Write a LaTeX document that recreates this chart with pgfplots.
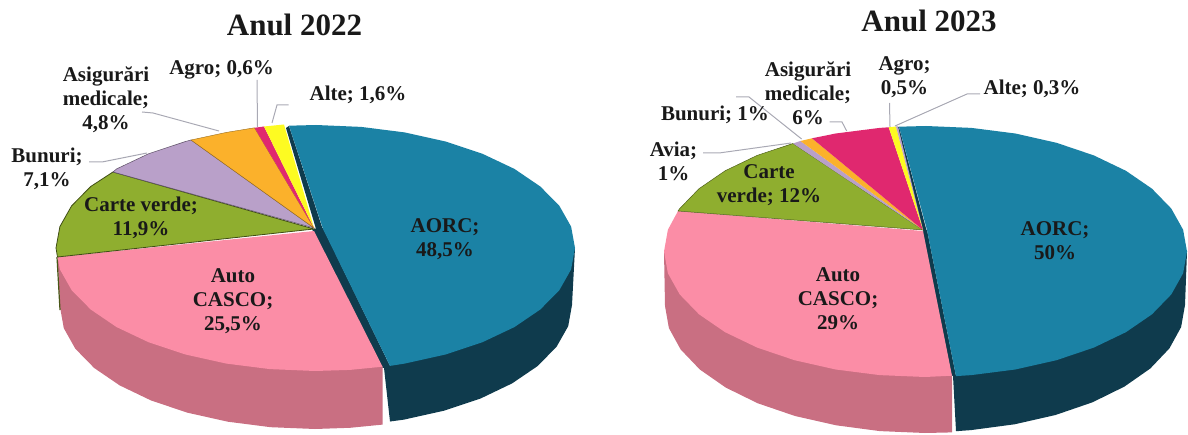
\documentclass[border=0pt]{standalone}
\usepackage{pgfplots}
\pgfplotsset{compat=1.18}
\usepackage{fontspec}
\setmainfont{Liberation Serif}
% colours of the slices
\definecolor{aorc}{HTML}{1B82A5}
\definecolor{aorcside}{HTML}{0F3B4D}
\definecolor{casco}{HTML}{FB8DA6}
\definecolor{cascoside}{HTML}{C96F82}
\definecolor{verde}{HTML}{8FAE2F}
\definecolor{bunuri}{HTML}{B9A0C9}
\definecolor{asig}{HTML}{FBB12B}
\definecolor{agro}{HTML}{E0286F}
\definecolor{alte}{HTML}{FDFB22}
\definecolor{leader}{HTML}{A9A9B4}
\tikzset{
  lbl/.style={font=\fontsize{21}{24}\selectfont\bfseries,align=center,text=black!90,inner sep=0pt},
  ttl/.style={font=\fontsize{31}{32}\selectfont\bfseries,text=black!90,inner sep=0pt},
  lead/.style={draw=leader,line width=1pt},
}
\begin{document}
\begin{tikzpicture}
\begin{axis}[scale only axis,width=1188pt,height=435pt,xmin=0,xmax=1188,ymin=0,ymax=435,y dir=reverse,axis lines=none,clip=false]
% keeps the page at the full frame
\path (axis cs:0,0) rectangle (axis cs:1188,435);

%% Anul 2022
% side faces
\addplot[fill=aorcside,draw=none] coordinates {(575,248)(572,305)(568.2,326.2)(556.6,346.7)(537.7,366)(512.1,383.4)(480.6,398.5)(444,410.7)(403.6,419.7)(390,421.5)(390,365.9)} -- cycle;
\addplot[fill=aorcside,draw=none] coordinates {(312,229)(380,367)(384,368)(390,421.5)(390,366)(323,228)} -- cycle;
\addplot[fill=cascoside,draw=none] coordinates {(57.5,257)(60,307)(63.8,328.2)(75.3,348.7)(94.2,368)(119.7,385.4)(151.1,400.5)(187.5,412.7)(227.8,421.7)(270.7,427.2)(315,429)(350,427.8)(382.6,424.6)(382.6,366.7)} -- cycle;
\addplot[draw=verde!50!black,line width=1.2pt] coordinates {(57,257)(60,310)};
% top faces
\addplot[fill=aorcside,draw=none] coordinates {(286,128)(289,126)(323,230)(316,229)} -- cycle;
\addplot[fill=aorc,draw=none] coordinates {(323,229)(289,125.7)(316,125)(361.1,126.9)(404.6,132.4)(445.5,141.5)(482.5,153.8)(514.4,168.9)(540.3,186.5)(559.4,205.9)(571.1,226.6)(575,248)(571.1,269.4)(559.4,290.1)(540.3,309.5)(514.4,327.1)(482.5,342.2)(445.5,354.5)(404.6,363.6)(390,365.9)} -- cycle;
\addplot[fill=casco,draw=none] coordinates {(314,231)(57.5,257)(59.9,269.4)(71.6,290.1)(90.7,309.5)(116.6,327.1)(148.5,342.2)(185.5,354.5)(226.4,363.6)(269.9,369.1)(315,371)(350,369.9)(382.6,366.7)} -- cycle;
\addplot[fill=verde,draw=verde!45!black,line width=.8pt] coordinates {(314,229)(57.5,257)(56,248)(59.9,226.6)(71.6,205.9)(90.7,186.5)(113,172)} -- cycle;
\addplot[fill=bunuri,draw=bunuri!50!black,line width=.5pt] coordinates {(314,228)(113,172)(116.6,168.9)(148.5,153.8)(185.5,141.5)(191,140)} -- cycle;
\addplot[fill=asig,draw=asig!60!black,line width=.4pt] coordinates {(314,228)(191,140)(226.4,132.4)(254.5,127.8)} -- cycle;
\addplot[fill=agro,draw=none] coordinates {(314,228)(254.5,127.8)(264,126.5)} -- cycle;
\addplot[fill=alte,draw=none] coordinates {(314,228)(264,126.5)(284,124.5)} -- cycle;
% leader lines
\addplot[lead] coordinates {(142,112)(153,113)(219,131)};
\addplot[lead] coordinates {(257,80)(257.5,127)};
\addplot[lead] coordinates {(288.6,105)(277,105)(272,123)};
\addplot[lead] coordinates {(89,162)(102,162)(147,153)};
% texts
\node[ttl] at (axis cs:294.5,25) {Anul 2022};
\node[lbl] at (axis cs:106,100) {Asigurări\\medicale;\\4,8\%};
\node[lbl] at (axis cs:221.6,70) {Agro; 0,6\%};
\node[lbl] at (axis cs:358,95) {Alte; 1,6\%};
\node[lbl] at (axis cs:47,169) {Bunuri;\\7,1\%};
\node[lbl] at (axis cs:141,218) {Carte verde;\\11,9\%};
\node[lbl] at (axis cs:445,239) {AORC;\\48,5\%};
\node[lbl] at (axis cs:233,301) {Auto\\CASCO;\\25,5\%};

%% Anul 2023
% side faces
\addplot[fill=aorcside,draw=none] coordinates {(1187,251.5)(1185,305)(1181.1,327.1)(1169.4,348.4)(1150.3,368.5)(1124.4,386.6)(1092.5,402.3)(1055.5,415)(1014.6,424.3)(971.1,430.1)(956,431.2)(956,376)} -- cycle;
\addplot[fill=aorcside,draw=none] coordinates {(921,232)(950,375)(953,376)(956,431)(956,376)(927,230)} -- cycle;
\addplot[fill=cascoside,draw=none] coordinates {(664,251.5)(665,306)(668.9,328.1)(680.6,349.4)(699.8,369.5)(725.8,387.6)(757.8,403.3)(795,416)(836.1,425.3)(879.8,431.1)(925,433)(952,432.4)(952,375.7)} -- cycle;
% top faces
\addplot[fill=aorcside,draw=none] coordinates {(897,127)(899,127)(927,232)(923,231)} -- cycle;
\addplot[fill=aorc,draw=none] coordinates {(927,230)(899,126.7)(926,126)(971.4,127.9)(1015.3,133.5)(1056.5,142.8)(1093.8,155.4)(1125.9,170.8)(1152,188.7)(1171.3,208.6)(1183.1,229.7)(1187,251.5)(1183.1,273.3)(1171.3,294.4)(1152,314.3)(1125.9,332.2)(1093.8,347.6)(1056.5,360.2)(1015.3,369.5)(971.4,375.1)(956,376.1)} -- cycle;
\addplot[fill=casco,draw=none] coordinates {(923,231)(678,211)(667.9,229.7)(664,251.5)(667.9,273.3)(679.7,294.4)(699,314.3)(725.1,332.2)(757.2,347.6)(794.5,360.2)(835.7,369.5)(879.6,375.1)(925,377)(952,375.7)} -- cycle;
\addplot[fill=verde,draw=verde!55!black,line width=.5pt] coordinates {(923,230)(678,211)(679.7,208.6)(699,188.7)(725.1,170.8)(757.2,155.4)(793,143.5)} -- cycle;
\addplot[fill=bunuri,draw=none] coordinates {(923,230)(793,143.5)(800.4,141)} -- cycle;
\addplot[fill=asig,draw=none] coordinates {(923,230)(800.4,141)(812,138.3)} -- cycle;
\addplot[fill=agro,draw=none] coordinates {(923,230)(812,138.3)(835.7,133.5)(879.6,127.9)(888.7,127.3)} -- cycle;
\addplot[fill=alte,draw=none] coordinates {(923,230)(888.7,127.3)(896,126.5)} -- cycle;
\addplot[fill=bunuri,draw=none] coordinates {(923,230)(896,126.5)(898,126.4)} -- cycle;
% leader lines
\addplot[lead] coordinates {(703,153)(719,153)(791,143)};
\addplot[lead] coordinates {(736,97)(749,97)(801.6,139)};
\addplot[lead] coordinates {(829.6,122)(842,122)(846.7,131)};
\addplot[lead] coordinates {(889.5,103)(890,127)};
\addplot[lead] coordinates {(980,94)(967,94)(895,126)};
% texts
\node[ttl] at (axis cs:929,21) {Anul 2023};
\node[lbl] at (axis cs:808,93) {Asigurări\\medicale;\\6\%};
\node[lbl] at (axis cs:904.6,77) {Agro;\\0,5\%};
\node[lbl] at (axis cs:1032,89) {Alte; 0,3\%};
\node[lbl] at (axis cs:715,115) {Bunuri; 1\%};
\node[lbl] at (axis cs:673.5,161) {Avia;\\1\%};
\node[lbl] at (axis cs:769,185) {Carte\\verde; 12\%};
\node[lbl] at (axis cs:1055,241) {AORC;\\50\%};
\node[lbl] at (axis cs:838,299) {Auto\\CASCO;\\29\%};
\end{axis}
\end{tikzpicture}
\end{document}
